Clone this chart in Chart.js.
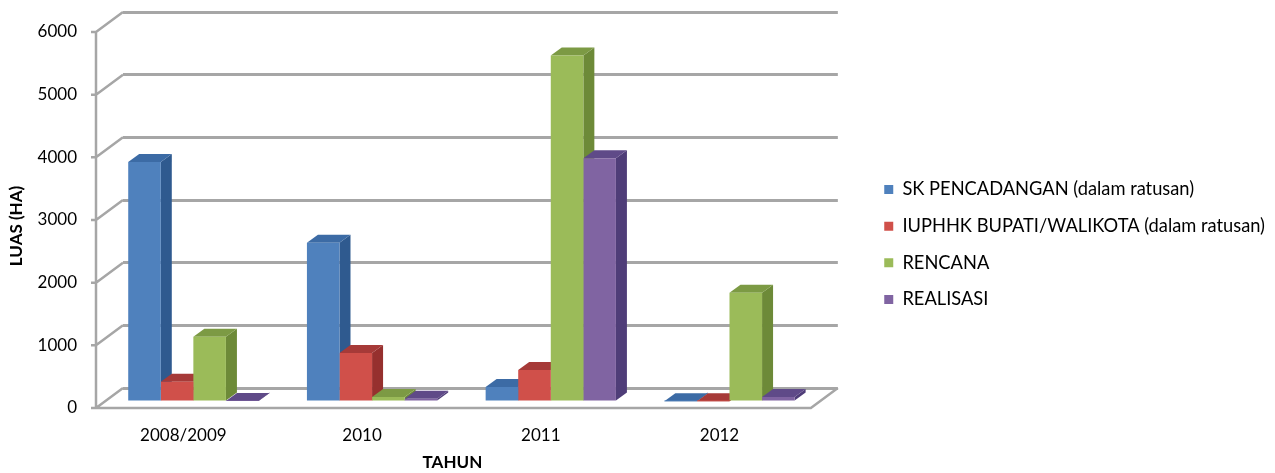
<!DOCTYPE html>
<html lang="id">
<head>
<meta charset="UTF-8">
<title>Luas per tahun</title>
<script src="https://cdn.jsdelivr.net/npm/chart.js"></script>
<style>
  html, body { margin: 0; padding: 0; background: #fff; }
  #wrap { width: 1275px; height: 473px; }
</style>
</head>
<body>
<div id="wrap"><canvas id="grafik" width="1275" height="473"></canvas></div>
<script>
const categories = ['2008/2009', '2010', '2011', '2012'];
const skPencadangan = [3830, 2540, 240, 10];
const iuphhk = [325, 780, 510, 10];
const rencana = [1040, 80, 5530, 1745];
const realisasi = [15, 50, 3890, 80];
const yTicks = [0, 1000, 2000, 3000, 4000, 5000, 6000];

const xTitle = 'TAHUN';
const yTitle = 'LUAS (HA)';
const fontName = 'Lato, "Open Sans", sans-serif';
const gridColor = '#a6a6a6';

// chart area is the back wall, these shift things towards the viewer
const front = { dx: -27, dy: 20 };
const barPlane = { dx: -19, dy: 14 };
const barDepth = { dx: 11, dy: -8 };

const faces = [
  { front: '#4f81bd', side: '#2f5a8f', top: '#3c6ba5' },
  { front: '#d0504a', side: '#96302e', top: '#a63a38' },
  { front: '#9bbb59', side: '#6d8a38', top: '#7c9a44' },
  { front: '#8064a2', side: '#4f3d78', top: '#5f4a88' }
];

function poly(ctx, pts, color) {
  ctx.fillStyle = color;
  ctx.beginPath();
  pts.forEach((p, i) => i ? ctx.lineTo(p[0], p[1]) : ctx.moveTo(p[0], p[1]));
  ctx.closePath();
  ctx.fill();
}

const box3d = {
  id: 'box3d',
  beforeDatasetsDraw(chart) {
    const { ctx, chartArea: a, scales: { y } } = chart;
    const fx = a.left + front.dx;
    ctx.save();
    // side axis, floor edge and the diagonals of the wall
    ctx.strokeStyle = gridColor;
    ctx.lineWidth = 2.5;
    ctx.beginPath();
    ctx.moveTo(fx, y.getPixelForValue(6000) + front.dy);
    ctx.lineTo(fx, y.getPixelForValue(0) + front.dy);
    ctx.lineTo(a.right + front.dx, y.getPixelForValue(0) + front.dy);
    ctx.lineTo(a.right, y.getPixelForValue(0));
    yTicks.forEach(v => {
      const py = y.getPixelForValue(v);
      ctx.moveTo(fx - 5, py + front.dy);
      ctx.lineTo(fx, py + front.dy);
      ctx.lineTo(a.left, py);
    });
    ctx.stroke();

    // depth faces of all bars, left to right, the library paints the fronts over them
    ctx.translate(barPlane.dx, barPlane.dy);
    seriesValues.forEach((vals, i) => {
      const c = faces[i];
      chart.getDatasetMeta(i).data.forEach(bar => {
        const l = bar.x - bar.width / 2;
        const r = bar.x + bar.width / 2;
        const t = bar.y;
        const b = bar.base;
        poly(ctx, [[r, t], [r + barDepth.dx, t + barDepth.dy], [r + barDepth.dx, b + barDepth.dy], [r, b]], c.side);
        poly(ctx, [[l, t], [l + barDepth.dx, t + barDepth.dy], [r + barDepth.dx, t + barDepth.dy], [r, t]], c.top);
      });
    });
    ctx.restore();
  },
  beforeDatasetDraw(chart) {
    chart.ctx.save();
    chart.ctx.translate(barPlane.dx, barPlane.dy);
  },
  afterDatasetDraw(chart) {
    chart.ctx.restore();
  },
  afterDraw(chart) {
    const { ctx, chartArea: a } = chart;
    ctx.save();
    ctx.fillStyle = '#000';
    ctx.font = 'bold 17px ' + fontName;
    ctx.textAlign = 'center';
    ctx.textBaseline = 'middle';
    ctx.fillText(xTitle, (a.left + a.right) / 2 - 28, 463);
    ctx.translate(17, (a.top + a.bottom) / 2 + 26);
    ctx.rotate(-Math.PI / 2);
    ctx.fillText(yTitle, 0, 0);
    ctx.restore();
  }
};

const seriesValues = [skPencadangan, iuphhk, rencana, realisasi];
const seriesNames = ['SK PENCADANGAN (dalam ratusan)', 'IUPHHK BUPATI/WALIKOTA (dalam ratusan)', 'RENCANA', 'REALISASI'];

new Chart(document.getElementById('grafik'), {
  type: 'bar',
  data: {
    labels: categories,
    datasets: seriesValues.map((vals, i) => ({
      label: seriesNames[i],
      data: vals,
      backgroundColor: faces[i].front,
      borderWidth: 0,
      categoryPercentage: 0.729,
      barPercentage: 1
    }))
  },
  options: {
    responsive: false,
    animation: false,
    // negative bottom only moves the legend down a little
    layout: { padding: { top: 12, right: 0, bottom: -4, left: 0 } },
    plugins: {
      tooltip: { enabled: false },
      legend: {
        position: 'right',
        maxWidth: 430,
        labels: {
          boxWidth: 9,
          boxHeight: 9,
          padding: 18.4,
          color: '#000',
          font: { family: fontName, size: 18.3 }
        }
      }
    },
    scales: {
      x: {
        grid: { display: false },
        border: { display: false },
        ticks: {
          color: '#000',
          font: { family: fontName, size: 17 },
          labelOffset: -29,
          maxRotation: 0,
          padding: 29
        },
        afterFit: s => { s.height = 89; s.paddingLeft = 0; s.paddingRight = 0; }
      },
      y: {
        min: 0,
        max: 6000,
        grid: { color: gridColor, lineWidth: 3, drawTicks: false },
        border: { display: false },
        ticks: {
          stepSize: 1000,
          color: '#000',
          font: { family: fontName, size: 17 },
          labelOffset: 20,
          padding: 46,
          callback: v => String(v)
        },
        afterFit: s => { s.width = 123; s.paddingTop = 0; s.paddingBottom = 0; }
      },
      // empty axis, keeps the gap between the wall and the legend
      gap: {
        position: 'right',
        display: true,
        grid: { display: false },
        border: { display: false },
        ticks: { display: false },
        afterFit: s => { s.width = 28; s.paddingTop = 0; s.paddingBottom = 0; }
      }
    }
  },
  plugins: [box3d]
});
</script>
</body>
</html>
